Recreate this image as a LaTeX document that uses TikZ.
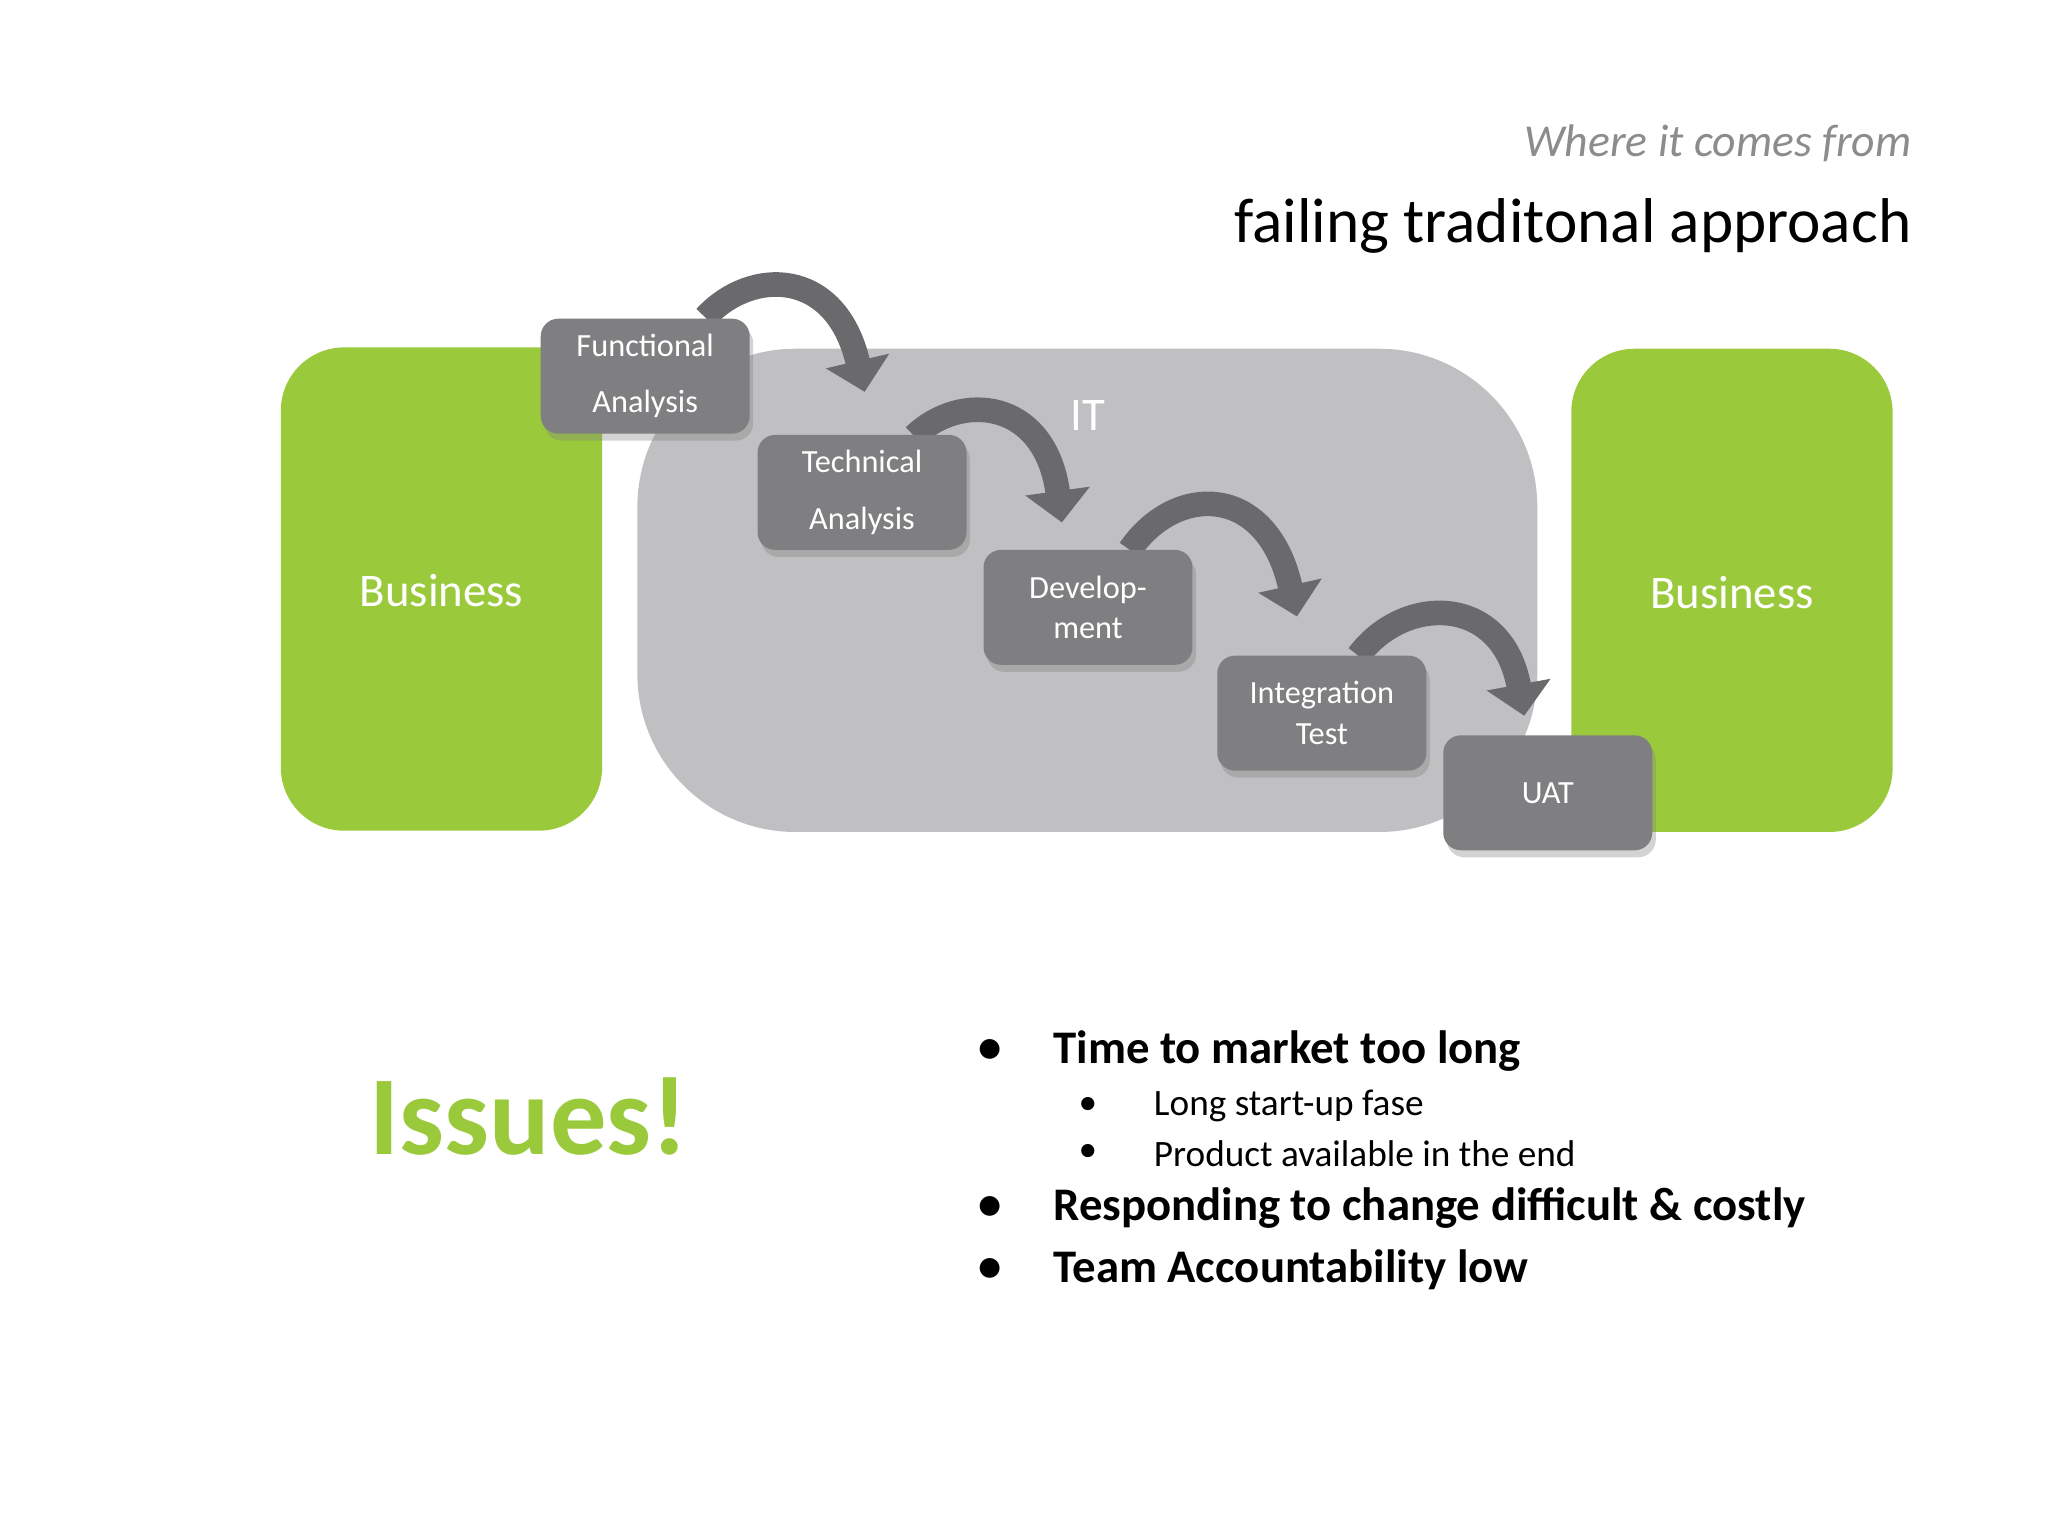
\documentclass[tikz,border=0pt]{standalone}
\usepackage{fontspec}
\setmainfont{Carlito}
\usetikzlibrary{arrows.meta,shadows}
\definecolor{grn}{HTML}{9ACA3C}
\definecolor{itg}{HTML}{C0BFC2}
\definecolor{stp}{HTML}{7F7E80}
\definecolor{arr}{HTML}{6A6A6C}
\begin{document}
\begin{tikzpicture}[x=0.01306cm,y=-0.01306cm,
  biz/.style={fill=grn,rounded corners=18pt,draw=none},
  stage/.style={fill=stp,rounded corners=5pt,minimum width=160*0.01306cm,minimum height=88*0.01306cm,text=white,font=\fontsize{9.2}{16}\selectfont,align=center,drop shadow={opacity=0.35,shadow xshift=1pt,shadow yshift=-2pt}},
  flow/.style={draw=arr,line width=7pt,-{Triangle[width=18pt,length=9pt]}},
  white/.style={text=white}]
\useasboundingbox (0,0) rectangle (1568,1176);
\fill[biz] (215,266) rectangle (461,636);
\fill[itg,rounded corners=45pt] (488,267) rectangle (1177,637);
\fill[biz] (1203,267) rectangle (1449,637);
\node[white,font=\fontsize{13.3}{16}\selectfont] (b1) at (338,452) {Business};
\node[white,font=\fontsize{13.3}{16}\selectfont] (b2) at (1326,454) {Business};
\node[white,font=\fontsize{13.3}{16}\selectfont] (it) at (833,318) {IT};
\node[anchor=east,text=gray!90,font=\itshape\fontsize{13}{16}\selectfont] (t1) at (1473,110) {Where it comes from};
\node[anchor=east,font=\fontsize{18}{22}\selectfont] (t2) at (1473,173) {failing traditonal approach};
% arrows
\draw[flow] (540,243) .. controls (575,205) and (640,205) .. (662,300);
\draw[flow] (700,334) .. controls (735,300) and (800,305) .. (813,400);
\draw[flow] (865,421) .. controls (900,370) and (970,370) .. (993,472);
\draw[flow] (1040,502) .. controls (1075,455) and (1150,455) .. (1167,548);
\node[stage] (s1) at (494,288) {Functional\\Analysis};
\node[stage] (s2) at (660,377) {Technical\\Analysis};
\node[stage,font=\fontsize{9.2}{11.5}\selectfont] (s3) at (833,465) {Develop-\\ment};
\node[stage,font=\fontsize{9.2}{11.5}\selectfont] (s4) at (1012,546) {Integration\\Test};
\node[stage] (s5) at (1185,607) {UAT};
\node[text=grn,font=\bfseries\fontsize{32}{36}\selectfont] (iss) at (405,855) {Issues!};
\begin{scope}[font=\bfseries\fontsize{13.3}{16}\selectfont]
\node at (758,805) {•}; \node[anchor=west] (i1) at (797,805) {Time to market too long};
\node at (758,925) {•}; \node[anchor=west] (i2) at (797,925) {Responding to change difficult \& costly};
\node at (758,972) {•}; \node[anchor=west] (i3) at (797,972) {Team Accountability low};
\end{scope}
\begin{scope}[font=\fontsize{10.6}{13}\selectfont]
\node at (833,847) {•}; \node[anchor=west] (j1) at (874,847) {Long start-up fase};
\node at (833,883) {•}; \node[anchor=west] (j2) at (874,883) {Product available in the end};
\end{scope}
\end{tikzpicture}
\end{document}
